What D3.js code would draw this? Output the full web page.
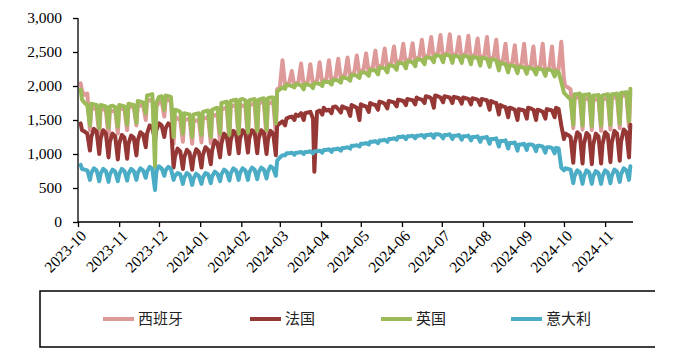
<!DOCTYPE html>
<html>
<head>
<meta charset="utf-8">
<script src="https://cdn.jsdelivr.net/npm/d3@7"></script>
<style>
  body { margin: 0; background: #fff; }
  svg { display: block; }
</style>
</head>
<body>
<svg id="chart" width="686" height="356"></svg>
<script>
// Series names and colours, in legend order
const seriesNames = ["西班牙", "法国", "英国", "意大利"];
const seriesColors = ["#DE9A98", "#953735", "#9BBB59", "#4BACC6"];
const yTicks = [0, 500, 1000, 1500, 2000, 2500, 3000];

// Four samples a week: weekend point, the day after, mid-week, late week
const firstSample = "2023-10-03";
const slotOffsets = [0, 1, 3, 5];

const spain = [
  2040,1930,1870,1890, 1350,1680,1670,1650, 1280,1650,1660,1640, 1260,1640,1630,1650,
  1300,1660,1670,1650, 1350,1680,1700,1690, 1420,1720,1710,1730, 1500,1780,1790,1800,
  1350,1700,1760,1780, 1550,1800,1790,1780, 1150,1550,1520,1500, 1180,1500,1510,1520,
  1150,1480,1490,1500, 1170,1520,1530,1540, 1160,1550,1570,1580, 1180,1650,1670,1680,
  1200,1700,1710,1720, 1200,1720,1710,1700, 1220,1720,1730,1740, 1230,1740,1760,1750,
  1250,1760,1750,1770, 1300,1950,1980,2380, 2000,2030,2040,2220, 2000,2040,2050,2330,
  2010,2050,2060,2320, 2020,2060,2070,2350, 2040,2080,2090,2380, 2060,2110,2120,2400,
  2090,2150,2160,2420, 2120,2180,2190,2450, 2160,2220,2230,2480, 2190,2260,2270,2520,
  2210,2290,2300,2550, 2240,2320,2330,2580, 2280,2360,2370,2620, 2300,2380,2390,2630,
  2330,2410,2420,2680, 2360,2440,2450,2720, 2390,2470,2480,2750, 2390,2470,2480,2760,
  2380,2460,2470,2720, 2380,2460,2470,2740, 2360,2450,2450,2700, 2340,2430,2440,2720,
  2320,2410,2420,2680, 2270,2360,2370,2620, 2240,2320,2330,2600, 2220,2300,2310,2620,
  2210,2280,2290,2580, 2190,2270,2280,2620, 2170,2250,2260,2580, 2160,2240,2250,2650,
  2100,2000,1980,1950, 1380,1820,1830,1840, 1360,1800,1810,1820, 1350,1790,1800,1810,
  1340,1800,1810,1820, 1360,1820,1830,1840, 1380,1850,1860,1870, 1400,1900
];

const france = [
  1450,1350,1330,1300, 1050,1250,1370,1330, 1000,1220,1350,1300, 950,1180,1300,1260,
  920,1150,1280,1240, 930,1150,1270,1240, 980,1200,1320,1290, 1100,1300,1420,1390,
  1200,1350,1450,1420, 1250,1380,1450,1420, 800,960,1080,1040, 780,950,1060,1020,
  770,940,1070,1030, 800,980,1100,1060, 850,1050,1200,1160, 950,1150,1300,1260,
  1000,1200,1340,1300, 1010,1220,1350,1310, 1020,1230,1350,1320, 1010,1220,1350,1310,
  1000,1210,1340,1300, 980,1420,1450,1480, 1420,1520,1540,1550, 1500,1580,1560,1600,
  1500,1600,1610,1620, 1520,740,1620,1640, 1580,1680,1640,1650, 1600,1690,1700,1660,
  1610,1700,1680,1670, 1560,1720,1700,1680, 1500,1730,1710,1700, 1620,1750,1730,1720,
  1650,1770,1760,1740, 1670,1780,1770,1760, 1700,1800,1790,1780, 1720,1810,1800,1790,
  1730,1830,1810,1800, 1750,1850,1840,1820, 1680,1860,1850,1830, 1760,1850,1840,1830,
  1750,1840,1830,1820, 1740,1830,1820,1810, 1730,1820,1810,1800, 1720,1810,1800,1790,
  1650,1780,1760,1750, 1580,1720,1700,1690, 1540,1680,1670,1650, 1500,1660,1650,1640,
  1520,1680,1670,1650, 1500,1650,1640,1620, 1520,1660,1650,1640, 1540,1680,1660,1420,
  1220,1300,1280,1250, 870,1150,1320,1280, 860,1140,1310,1270, 850,1130,1300,1260,
  860,1140,1320,1280, 880,1160,1340,1300, 900,1180,1360,1320, 950,1430
];

const uk = [
  1950,1800,1750,1720, 1420,1740,1730,1720, 1380,1720,1710,1700, 1390,1700,1710,1690,
  1400,1720,1710,1700, 1430,1740,1730,1720, 1460,1780,1770,1760, 1600,1860,1870,1880,
  800,1750,1840,1850, 1650,1860,1850,1840, 1250,1650,1640,1620, 1300,1600,1590,1580,
  1250,1580,1590,1600, 1280,1620,1630,1640, 1250,1650,1670,1680, 1300,1750,1760,1770,
  1280,1780,1790,1800, 1300,1800,1810,1790, 1320,1790,1800,1810, 1340,1800,1810,1820,
  1350,1820,1830,1830, 1450,1920,1950,1980, 1960,2020,2010,2000, 1980,2030,2020,2010,
  1950,2030,2020,2010, 1970,2040,2040,2030, 2000,2070,2060,2060, 2020,2090,2090,2080,
  2050,2130,2120,2110, 2080,2160,2160,2150, 2120,2200,2200,2190, 2150,2240,2230,2230,
  2170,2270,2270,2260, 2200,2300,2300,2290, 2240,2340,2340,2330, 2260,2360,2360,2350,
  2290,2390,2390,2380, 2320,2420,2420,2410, 2350,2450,2450,2440, 2350,2450,2460,2450,
  2340,2440,2440,2430, 2340,2440,2440,2430, 2320,2430,2420,2420, 2300,2410,2410,2400,
  2280,2390,2390,2380, 2230,2340,2330,2320, 2200,2300,2300,2290, 2190,2280,2280,2270,
  2180,2270,2260,2250, 2170,2260,2250,2240, 2150,2240,2240,2230, 2140,2220,2200,2060,
  1900,1880,1840,1800, 1430,1880,1880,1890, 1420,1870,1870,1880, 1410,1860,1860,1870,
  1420,1860,1870,1880, 1430,1880,1880,1890, 1450,1900,1900,1910, 1480,1960
];

const italy = [
  840,780,770,760, 620,720,790,760, 600,710,780,750, 590,700,770,740,
  600,700,780,750, 610,710,780,750, 620,720,790,760, 650,740,810,780,
  470,740,820,790, 680,760,810,780, 620,680,720,700, 560,650,720,690,
  545,640,710,680, 560,650,720,700, 570,670,740,710, 600,700,770,740,
  610,710,790,760, 620,720,790,760, 620,730,800,770, 630,730,800,770,
  640,740,820,790, 680,900,950,980, 980,1010,1010,1020, 990,1020,1020,1030,
  1000,1030,1030,1040, 1010,1040,1040,1050, 1020,1060,1060,1070, 1030,1070,1070,1080,
  1050,1090,1090,1100, 1080,1120,1120,1130, 1110,1150,1150,1160, 1140,1180,1180,1190,
  1160,1200,1200,1210, 1180,1220,1220,1230, 1210,1250,1250,1260, 1220,1260,1260,1270,
  1230,1270,1270,1280, 1240,1280,1280,1290, 1240,1290,1290,1280, 1230,1280,1280,1290,
  1220,1270,1270,1280, 1210,1260,1260,1270, 1200,1250,1250,1260, 1180,1240,1240,1250,
  1150,1220,1220,1230, 1110,1190,1190,1200, 1080,1160,1160,1170, 1050,1140,1140,1150,
  1060,1140,1140,1130, 1040,1120,1120,1110, 1020,1100,1100,1090, 1010,1090,1080,800,
  760,790,780,770, 570,680,760,730, 560,670,760,730, 560,670,750,720,
  560,670,760,730, 570,680,770,740, 590,700,790,760, 620,820
];

const seriesValues = [spain, france, uk, italy];

const parseDay = d3.timeParse("%Y-%m-%d");
const start = parseDay(firstSample);
const perWeek = slotOffsets.length;
const sampleDate = i => d3.timeDay.offset(start, Math.floor(i / perWeek) * 7 + slotOffsets[i % perWeek]);

const svg = d3.select("#chart");
const serif = "'Times New Roman', 'Liberation Serif', serif";

const x = d3.scaleTime()
  .domain([parseDay("2023-10-01"), parseDay("2024-11-22")])
  .range([78, 633]);
const y = d3.scaleLinear().domain([0, 3000]).range([222, 18]);

// Series lines, drawn in legend order
const line = d3.line()
  .x((d, i) => x(sampleDate(i)))
  .y(d => y(d));

svg.append("g").selectAll("path")
  .data(seriesValues)
  .join("path")
  .attr("d", d => line(d))
  .attr("fill", "none")
  .attr("stroke", (d, i) => seriesColors[i])
  .attr("stroke-width", 4)
  .attr("stroke-linejoin", "round")
  .attr("stroke-linecap", "round");

// Y axis
const yAxis = svg.append("g")
  .attr("transform", "translate(78,0)")
  .call(d3.axisLeft(y).tickValues(yTicks).tickFormat(d3.format(",")).tickSize(5).tickPadding(11));
yAxis.select(".domain").attr("stroke", "#000").attr("stroke-width", 1.3).attr("d", "M0,18V222");
yAxis.selectAll(".tick line").attr("stroke", "#000").attr("stroke-width", 1.3);
yAxis.selectAll("text").attr("font-family", serif).attr("font-size", 15.5).attr("fill", "#000");

// X axis with monthly ticks
const monthTicks = d3.timeMonth.range(parseDay("2023-10-01"), parseDay("2024-11-02"));
const xAxis = svg.append("g")
  .attr("transform", "translate(0,222)")
  .call(d3.axisBottom(x).tickValues(monthTicks).tickFormat(d3.timeFormat("%Y-%m")).tickSize(5));
xAxis.select(".domain").attr("stroke", "#000").attr("stroke-width", 1.3).attr("d", "M78,0H633");
xAxis.selectAll(".tick line").attr("stroke", "#000").attr("stroke-width", 1.3);
xAxis.selectAll("text")
  .attr("font-family", serif).attr("font-size", 15.5).attr("fill", "#000")
  .attr("text-anchor", "end")
  .attr("x", 0).attr("y", 0).attr("dy", "0.35em")
  .attr("transform", "translate(5,11) rotate(-45)");

// Legend
const legend = svg.append("g");
legend.append("path")
  .attr("d", "M655,291H40V347H655")
  .attr("fill", "none").attr("stroke", "#000").attr("stroke-width", 1.5);
const legendX = [103, 250, 381, 511];
const item = legend.selectAll("g.item")
  .data(seriesNames)
  .join("g")
  .attr("class", "item")
  .attr("transform", (d, i) => `translate(${legendX[i]},319)`);
item.append("line")
  .attr("x1", 0).attr("x2", 31)
  .attr("stroke", (d, i) => seriesColors[i])
  .attr("stroke-width", 4);
item.append("text")
  .attr("x", 35).attr("dy", "0.36em")
  .attr("font-family", "'Noto Sans CJK SC', sans-serif")
  .attr("font-size", 15)
  .attr("fill", "#222")
  .text(d => d);
</script>
</body>
</html>
